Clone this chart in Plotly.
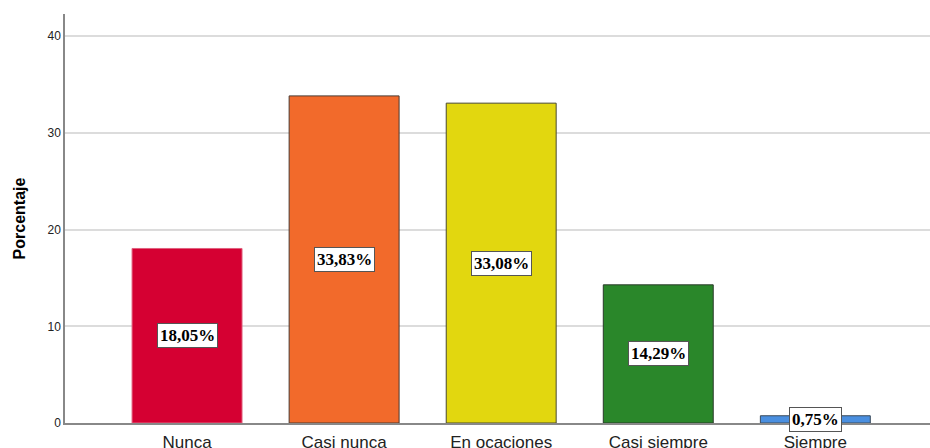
import plotly.graph_objects as go

categories = ["Nunca", "Casi nunca", "En ocaciones", "Casi siempre", "Siempre"]
values = [18.05, 33.83, 33.08, 14.29, 0.75]
labels = ["18,05%", "33,83%", "33,08%", "14,29%", "0,75%"]
colors = ["#D50032", "#F26A2B", "#E2D70F", "#2A872A", "#4A8FE0"]
line_colors = ["#E0607F", "#4a3a30", "#4a4a30", "#2a3a2a", "#3a4a5a"]
y_ticks = [0, 10, 20, 30, 40]

fig = go.Figure()
fig.add_trace(go.Bar(
    x=categories, y=values, width=0.70,
    marker=dict(color=colors, line=dict(color=line_colors, width=1)),
    hoverinfo="skip",
))

for c, v, t in zip(categories, values, labels):
    fig.add_annotation(
        x=c, y=v / 2, text="<b>" + t + "</b>", showarrow=False,
        font=dict(family="Liberation Serif", size=17, color="#000"),
        bgcolor="white", bordercolor="#555", borderwidth=1, borderpad=2,
    )

fig.update_layout(
    width=930, height=448,
    margin=dict(l=65, r=0, t=14, b=25),
    plot_bgcolor="white", paper_bgcolor="white",
    showlegend=False,
    bargap=0.3,
    xaxis=dict(
        range=[-0.777, 4.73], showgrid=False, showline=True, automargin=False,
        linecolor="#888", linewidth=1.5, ticks="", ticklabelstandoff=3,
        tickfont=dict(family="Liberation Sans", size=17, color="#222"),
    ),
    yaxis=dict(
        range=[0, 42.3], tickvals=y_ticks, showgrid=True, gridcolor="#dcdcdc",
        gridwidth=1.5, showline=True, linecolor="#888", linewidth=1.5,
        ticks="", zeroline=False, automargin=False,
        tickfont=dict(family="Liberation Sans", size=12, color="#222"),
        title=dict(text="<b>Porcentaje</b>", standoff=18,
                   font=dict(family="Liberation Sans", size=16, color="#000")),
    ),
)

fig.write_html("out.html")
